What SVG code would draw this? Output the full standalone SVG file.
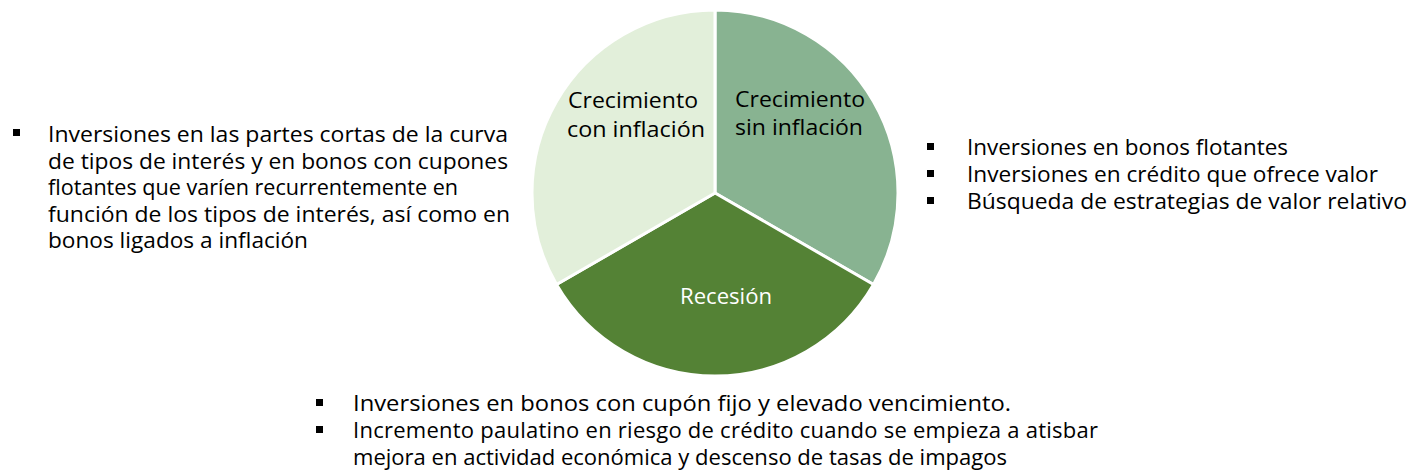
<svg xmlns="http://www.w3.org/2000/svg" width="1416" height="474" viewBox="0 0 1416 474">
  <style>
    .t { font-family: "Open Sans", "Noto Sans", "Liberation Sans", sans-serif; font-size: 22px; fill: #000000; }
    .lbl { font-family: "Open Sans", "Noto Sans", "Liberation Sans", sans-serif; font-size: 22px; }
    .slice { stroke: #FFFFFF; stroke-width: 3; stroke-linejoin: round; }
    .bul { fill: #000000; }
  </style>
  <rect width="1416" height="474" fill="#FFFFFF"/>
  <g id="pie">
    <g id="slice-sin-inflacion">
      <path class="slice" d="M715,193 L715,10 A183,183 0 0 1 873.5,284.5 Z" fill="#88B391"/>
      <text class="lbl" x="735" y="107" fill="#000000" textLength="130" lengthAdjust="spacingAndGlyphs">Crecimiento</text>
      <text class="lbl" x="735" y="135" fill="#000000" textLength="128" lengthAdjust="spacingAndGlyphs">sin inflación</text>
    </g>
    <g id="slice-recesion">
      <path class="slice" d="M715,193 L873.5,284.5 A183,183 0 0 1 556.5,284.5 Z" fill="#548235"/>
      <text class="lbl" x="680" y="304" fill="#FFFFFF" textLength="92" lengthAdjust="spacingAndGlyphs">Recesión</text>
    </g>
    <g id="slice-con-inflacion">
      <path class="slice" d="M715,193 L556.5,284.5 A183,183 0 0 1 715,10 Z" fill="#E2EFDA"/>
      <text class="lbl" x="568" y="108" fill="#000000" textLength="130" lengthAdjust="spacingAndGlyphs">Crecimiento</text>
      <text class="lbl" x="567" y="137" fill="#000000" textLength="138" lengthAdjust="spacingAndGlyphs">con inflación</text>
    </g>
  </g>
  <g id="text-left">
    <rect class="bul" x="13" y="129" width="7" height="7"/>
    <text class="t" x="48" y="142" textLength="460" lengthAdjust="spacingAndGlyphs">Inversiones en las partes cortas de la curva</text>
    <text class="t" x="48" y="168.5" textLength="460" lengthAdjust="spacingAndGlyphs">de tipos de interés y en bonos con cupones</text>
    <text class="t" x="48" y="195" textLength="410" lengthAdjust="spacingAndGlyphs">flotantes que varíen recurrentemente en</text>
    <text class="t" x="48" y="221.5" textLength="462" lengthAdjust="spacingAndGlyphs">función de los tipos de interés, así como en</text>
    <text class="t" x="48" y="248" textLength="260" lengthAdjust="spacingAndGlyphs">bonos ligados a inflación</text>
  </g>
  <g id="text-right">
    <rect class="bul" x="927" y="143" width="7" height="7"/>
    <text class="t" x="967" y="155" textLength="321" lengthAdjust="spacingAndGlyphs">Inversiones en bonos flotantes</text>
    <rect class="bul" x="927" y="170" width="7" height="7"/>
    <text class="t" x="967" y="182" textLength="411" lengthAdjust="spacingAndGlyphs">Inversiones en crédito que ofrece valor</text>
    <rect class="bul" x="927" y="197" width="7" height="7"/>
    <text class="t" x="967" y="209" textLength="440" lengthAdjust="spacingAndGlyphs">Búsqueda de estrategias de valor relativo</text>
  </g>
  <g id="text-bottom">
    <rect class="bul" x="316" y="399" width="7" height="7"/>
    <text class="t" x="353" y="411" textLength="658" lengthAdjust="spacingAndGlyphs">Inversiones en bonos con cupón fijo y elevado vencimiento.</text>
    <rect class="bul" x="316" y="426" width="7" height="7"/>
    <text class="t" x="353" y="438" textLength="745" lengthAdjust="spacing">Incremento paulatino en riesgo de crédito cuando se empieza a atisbar</text>
    <text class="t" x="353" y="465" textLength="654" lengthAdjust="spacingAndGlyphs">mejora en actividad económica y descenso de tasas de impagos</text>
  </g>
</svg>
